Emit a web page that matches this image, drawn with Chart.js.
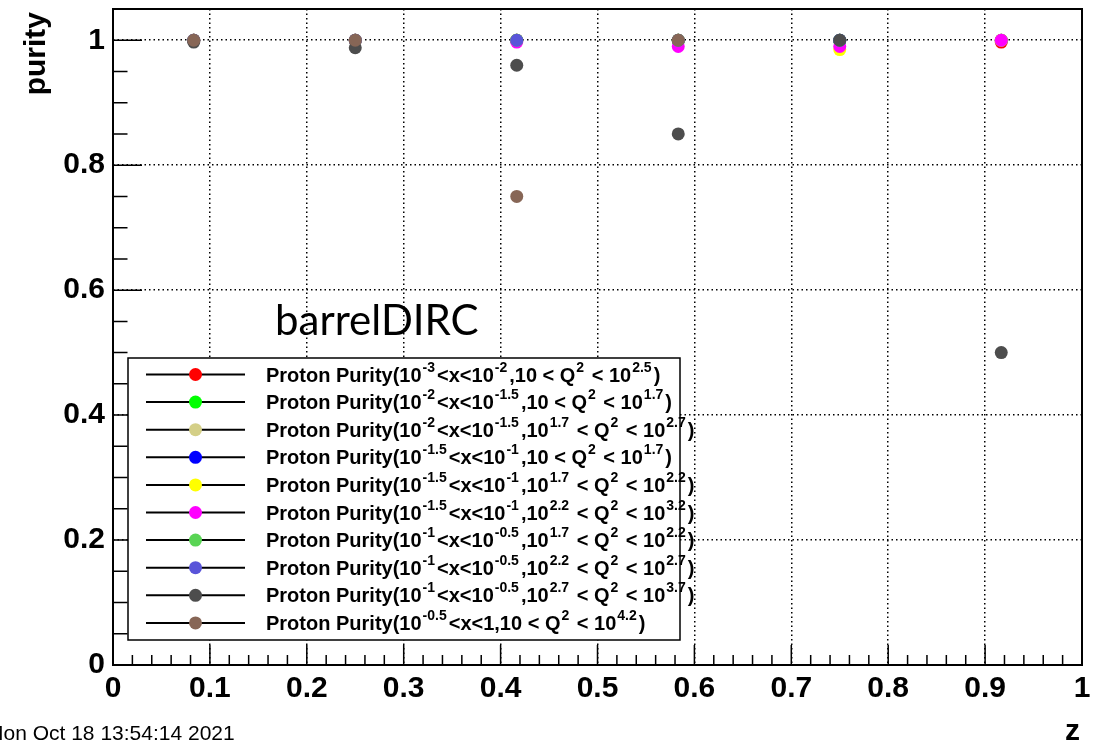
<!DOCTYPE html>
<html>
<head>
<meta charset="utf-8">
<script src="https://cdn.jsdelivr.net/npm/chart.js@4.4.1/dist/chart.umd.min.js"></script>
<style>
    body { margin: 0; background: #fff; }
    canvas { display: block; }
</style>
</head>
<body>
<canvas id="purity_chart" width="1105" height="744"></canvas>
<script>
// z bin centres and axis ticks
var zBins = [1 / 12, 3 / 12, 5 / 12, 7 / 12, 9 / 12, 11 / 12];
var xTicks = [0, 0.1, 0.2, 0.3, 0.4, 0.5, 0.6, 0.7, 0.8, 0.9, 1];
var yTicks = [0, 0.2, 0.4, 0.6, 0.8, 1];

// purity per z bin, one array per (x, Q2) bin; null = no entry
var purity1 = [1, 1, 1, 1, 1, 0.997];
var purity2 = [1, 1, 1, 1, 1, 1];
var purity3 = [1, 1, 1, 1, 1, 1];
var purity4 = [1, 1, 1, 1, 1, 1];
var purity5 = [1, 1, 1, 1, 0.985, 1];
var purity6 = [1, 1, 0.997, 0.99, 0.99, 1];
var purity7 = [1, 1, 1, 1, 1, null];
var purity8 = [1, 1, 1, 1, 1, null];
var purity9 = [0.997, 0.988, 0.96, 0.85, 1, 0.5];
var purity10 = [1, 1, 0.75, 1, null, null];

var labels = [
    'Proton Purity(10^{-3}<x<10^{-2},10 < Q^{2} < 10^{2.5})',
    'Proton Purity(10^{-2}<x<10^{-1.5},10 < Q^{2} < 10^{1.7})',
    'Proton Purity(10^{-2}<x<10^{-1.5},10^{1.7} < Q^{2} < 10^{2.7})',
    'Proton Purity(10^{-1.5}<x<10^{-1},10 < Q^{2} < 10^{1.7})',
    'Proton Purity(10^{-1.5}<x<10^{-1},10^{1.7} < Q^{2} < 10^{2.2})',
    'Proton Purity(10^{-1.5}<x<10^{-1},10^{2.2} < Q^{2} < 10^{3.2})',
    'Proton Purity(10^{-1}<x<10^{-0.5},10^{1.7} < Q^{2} < 10^{2.2})',
    'Proton Purity(10^{-1}<x<10^{-0.5},10^{2.2} < Q^{2} < 10^{2.7})',
    'Proton Purity(10^{-1}<x<10^{-0.5},10^{2.7} < Q^{2} < 10^{3.7})',
    'Proton Purity(10^{-0.5}<x<1,10 < Q^{2} < 10^{4.2})'
];
var colors = ['#ff0000', '#00ff00', '#d4cf87', '#0000ff', '#ffff00',
              '#ff00ff', '#59d454', '#5954d9', '#4d4d4d', '#876656'];

var purities = [purity1, purity2, purity3, purity4, purity5,
                purity6, purity7, purity8, purity9, purity10];

Chart.defaults.font.family = '"Liberation Sans", Arial, sans-serif';
Chart.defaults.color = '#000';

var datasets = purities.map(function (vals, i) {
    var pts = [];
    vals.forEach(function (v, k) {
        if (v !== null) pts.push({x: zBins[k], y: v});
    });
    return {
        label: labels[i],
        data: pts,
        showLine: false,
        pointRadius: 6.5,
        pointHoverRadius: 6.5,
        pointBorderWidth: 0,
        pointBackgroundColor: colors[i],
        borderColor: colors[i],
        // later graphs sit on top, like the ROOT draw order
        order: purities.length - i
    };
});

// splits "10^{-3}" style labels into normal / superscript runs
function splitLabel(text) {
    var parts = text.split(/\^\{([^}]*)\}/);
    return parts.map(function (p, i) { return {text: p, sup: i % 2 === 1}; });
}

var rootFrame = {
    id: 'rootFrame',
    afterDraw: function (chart) {
        var ctx = chart.ctx, a = chart.chartArea;
        var xs = chart.scales.x, ys = chart.scales.y;
        var k, px, py, len;
        ctx.save();
        ctx.strokeStyle = '#000';

        // inward ticks: x every 0.02, y every 0.05
        ctx.lineWidth = 1.5;
        ctx.beginPath();
        for (k = 0; k <= 50; k++) {
            px = xs.getPixelForValue(k / 50);
            len = k % 5 === 0 ? 20 : 10;
            ctx.moveTo(px, a.bottom);
            ctx.lineTo(px, a.bottom - len);
        }
        for (k = 0; k <= 20; k++) {
            py = ys.getPixelForValue(k / 20);
            len = k % 4 === 0 ? 29 : 14.5;
            ctx.moveTo(a.left, py);
            ctx.lineTo(a.left + len, py);
        }
        ctx.stroke();

        ctx.lineWidth = 2;
        ctx.strokeRect(a.left, a.top, a.right - a.left, a.bottom - a.top);

        // detector name
        ctx.fillStyle = '#000';
        ctx.font = '42px Lato';
        ctx.textAlign = 'left';
        ctx.textBaseline = 'alphabetic';
        ctx.fillText('barrelDIRC', 275, 335);

        // legend box
        var box = {left: 128, top: 358, right: 680, bottom: 640};
        ctx.fillStyle = '#fff';
        ctx.fillRect(box.left, box.top, box.right - box.left, box.bottom - box.top);
        ctx.lineWidth = 1.5;
        ctx.strokeRect(box.left, box.top, box.right - box.left, box.bottom - box.top);

        labels.forEach(function (lab, i) {
            var y = 374.5 + i * 27.6;
            ctx.strokeStyle = '#000';
            ctx.lineWidth = 2;
            ctx.beginPath();
            ctx.moveTo(146, y);
            ctx.lineTo(245, y);
            ctx.stroke();
            ctx.fillStyle = colors[i];
            ctx.beginPath();
            ctx.arc(195.5, y, 6.5, 0, Math.PI * 2);
            ctx.fill();

            ctx.fillStyle = '#000';
            var cx = 266;
            splitLabel(lab).forEach(function (run) {
                if (!run.text) return;
                if (run.sup) {
                    ctx.font = 'bold 14px "Liberation Sans"';
                    ctx.fillText(run.text, cx + 1, y - 3);
                    cx += ctx.measureText(run.text).width + 3;
                } else {
                    ctx.font = 'bold 20px "Liberation Sans"';
                    ctx.fillText(run.text, cx, y + 7);
                    cx += ctx.measureText(run.text).width;
                }
            });
        });

        // axis titles and time stamp
        ctx.fillStyle = '#000';
        ctx.font = 'bold 30px "Liberation Sans"';
        ctx.textAlign = 'right';
        ctx.fillText('z', 1080, 740);

        ctx.save();
        ctx.translate(45, 12);
        ctx.rotate(-Math.PI / 2);
        ctx.fillText('purity', 0, 0);
        ctx.restore();

        ctx.textAlign = 'left';
        ctx.font = '21px "Liberation Sans"';
        ctx.fillText('Mon Oct 18 13:54:14 2021', -14, 740);
        ctx.restore();
    }
};

new Chart(document.getElementById('purity_chart'), {
    type: 'scatter',
    data: {datasets: datasets},
    options: {
        responsive: false,
        animation: false,
        events: [],
        layout: {padding: {top: 9, right: 23, left: 0, bottom: 0}},
        plugins: {
            legend: {display: false},
            tooltip: {enabled: false}
        },
        scales: {
            x: {
                type: 'linear',
                min: 0,
                max: 1,
                afterBuildTicks: function (scale) {
                    scale.ticks = xTicks.map(function (v) { return {value: v}; });
                },
                afterFit: function (scale) {
                    scale.height = 79;
                    scale.paddingLeft = 0;
                    scale.paddingRight = 0;
                },
                ticks: {
                    font: {size: 30, weight: 'bold'},
                    padding: 6,
                    maxRotation: 0,
                    autoSkip: false,
                    callback: function (v) { return String(+v.toFixed(1)); }
                },
                grid: {color: '#000', lineWidth: 1.5, drawTicks: false},
                border: {display: false, dash: [1.5, 3]}
            },
            y: {
                type: 'linear',
                min: 0,
                max: 1.05,
                afterBuildTicks: function (scale) {
                    scale.ticks = yTicks.map(function (v) { return {value: v}; });
                },
                afterFit: function (scale) {
                    scale.width = 113;
                    scale.paddingTop = 0;
                    scale.paddingBottom = 0;
                },
                ticks: {
                    font: {size: 30, weight: 'bold'},
                    padding: 8,
                    autoSkip: false,
                    callback: function (v) { return String(+v.toFixed(1)); }
                },
                grid: {color: '#000', lineWidth: 1.5, drawTicks: false},
                border: {display: false, dash: [1.5, 3]}
            }
        }
    },
    plugins: [rootFrame]
});
</script>
</body>
</html>
